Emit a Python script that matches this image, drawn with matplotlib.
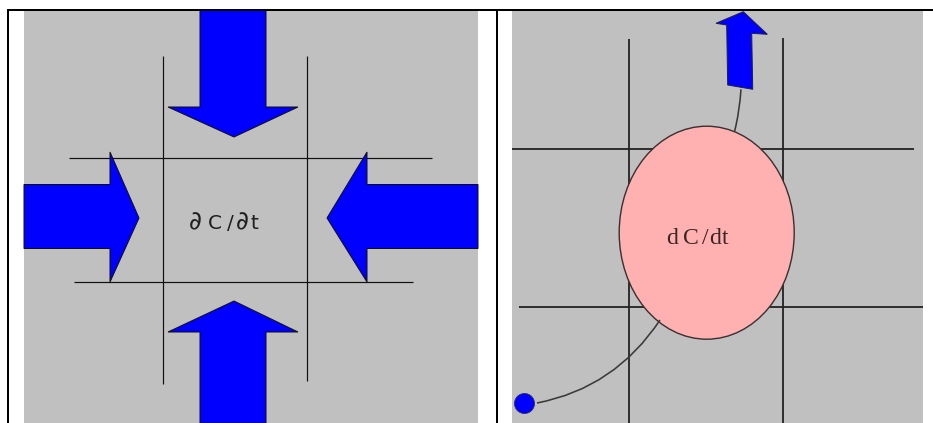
import matplotlib
matplotlib.use("Agg")
import matplotlib.pyplot as plt
from matplotlib.patches import Rectangle, Polygon, Ellipse, Circle, PathPatch
from matplotlib.path import Path

W, H = 933, 423
PX = 0.72  # points per pixel at dpi 100

# ---- layout data (pixel coordinates of the diagram) ----
panel_left = [24, 11, 454, 412]     # x, y, w, h
panel_right = [512, 11, 411, 412]
border_top = [7, 933, 10]
border_left = [8, 9, 423]
border_mid = [497, 10, 423]

# left panel grid lines: (x0, y0, x1, y1)
left_lines = [
    (163.3, 56, 163.3, 384),
    (307.3, 56, 307.3, 381),
    (69, 157.7, 432, 157.7),
    (74, 282.3, 413, 282.3),
]
# left panel arrows
arrow_down = [(200, 10), (266, 10), (266, 107), (298, 107), (234, 137), (168, 107), (200, 107)]
arrow_up = [(234, 301), (298, 332), (266, 332), (266, 424), (200, 424), (200, 332), (168, 332)]
arrow_right = [(24, 184.5), (110, 184.5), (110, 152), (139, 218), (110, 282), (110, 248.5), (24, 248.5)]
arrow_left = [(478, 184.5), (367, 184.5), (367, 152), (327, 218), (367, 282), (367, 248.5), (478, 248.5)]
left_chars = ["∂", "C", "/", "∂", "t"]
left_char_x = [195.5, 214.5, 230, 242.5, 254]
left_char_size = [18, 14.5, 14.5, 18, 14.5]
left_text_y = 229

# right panel grid lines
right_lines = [
    (629, 39, 629, 423),
    (782.7, 38, 782.7, 423),
    (512, 149.3, 914, 149.3),
    (519, 307.3, 923, 307.3),
]
cell_center = (706.7, 232.7)
cell_size = (175, 213)
right_chars = ["d", "C", "/", "d", "t"]
right_char_x = [672, 690.5, 705, 715.5, 725]
right_text_y = 243.5
small_arrow = [(727.7, 85), (726.7, 25), (716, 23.3), (743.3, 11.7), (767.3, 34.3), (751.7, 33.3), (752.7, 89.3)]
conn_up = [(734.5, 131.7), (739.5, 112), (741, 89.3)]
conn_down = [(660, 320), (615, 388), (537, 403)]
dot_center = (524.5, 403.5)
dot_radius = 10

GRAY = "#c0c0c0"
BLUE = "#0000ff"

fig = plt.figure(figsize=(W / 100, H / 100), dpi=100)
fig.patch.set_facecolor("white")
ax = fig.add_axes([0, 0, 1, 1])
ax.set_xlim(0, W)
ax.set_ylim(H, 0)
ax.axis("off")

# panels
for p in (panel_left, panel_right):
    ax.add_patch(Rectangle((p[0], p[1]), p[2], p[3], facecolor=GRAY, edgecolor="none", zorder=1))

# table borders
ax.plot([border_top[0], border_top[1]], [border_top[2], border_top[2]], color="black", lw=2 * PX, zorder=10, solid_capstyle="butt")
ax.plot([border_left[0], border_left[0]], [border_left[1], border_left[2]], color="black", lw=2 * PX, zorder=10, solid_capstyle="butt")
ax.plot([border_mid[0], border_mid[0]], [border_mid[1], border_mid[2]], color="black", lw=2 * PX, zorder=10, solid_capstyle="butt")

# left panel
for x0, y0, x1, y1 in left_lines:
    ax.plot([x0, x1], [y0, y1], color="#111111", lw=1.2 * PX, zorder=2, solid_capstyle="butt")
for poly in (arrow_down, arrow_up, arrow_right, arrow_left):
    ax.add_patch(Polygon(poly, closed=True, facecolor=BLUE, edgecolor="#101010", lw=1.0 * PX, zorder=3))
for ch, x, s in zip(left_chars, left_char_x, left_char_size):
    ax.text(x, left_text_y, ch, ha="center", va="baseline", fontsize=s, color="#202020",
            family="DejaVu Sans", zorder=4)

# right panel
for x0, y0, x1, y1 in right_lines:
    ax.plot([x0, x1], [y0, y1], color="#222222", lw=1.8 * PX, zorder=2, solid_capstyle="butt")
ax.add_patch(Ellipse(cell_center, cell_size[0], cell_size[1], facecolor="#ffb0b0",
                     edgecolor="#3a3030", lw=1.4 * PX, zorder=3))
for pts in (conn_up, conn_down):
    path = Path(pts, [Path.MOVETO, Path.CURVE3, Path.CURVE3])
    ax.add_patch(PathPatch(path, facecolor="none", edgecolor="#3a3a3a", lw=1.6 * PX, zorder=4))
ax.add_patch(Polygon(small_arrow, closed=True, facecolor=BLUE, edgecolor="#202040", lw=1.0 * PX, zorder=5))
ax.add_patch(Circle(dot_center, dot_radius, facecolor=BLUE, edgecolor="#303050", lw=0.8 * PX, zorder=5))
for ch, x in zip(right_chars, right_char_x):
    ax.text(x, right_text_y, ch, ha="center", va="baseline", fontsize=17, color="#3a2424",
            family="Liberation Serif", zorder=6)

fig.savefig("out.png", dpi=100, facecolor="white")
